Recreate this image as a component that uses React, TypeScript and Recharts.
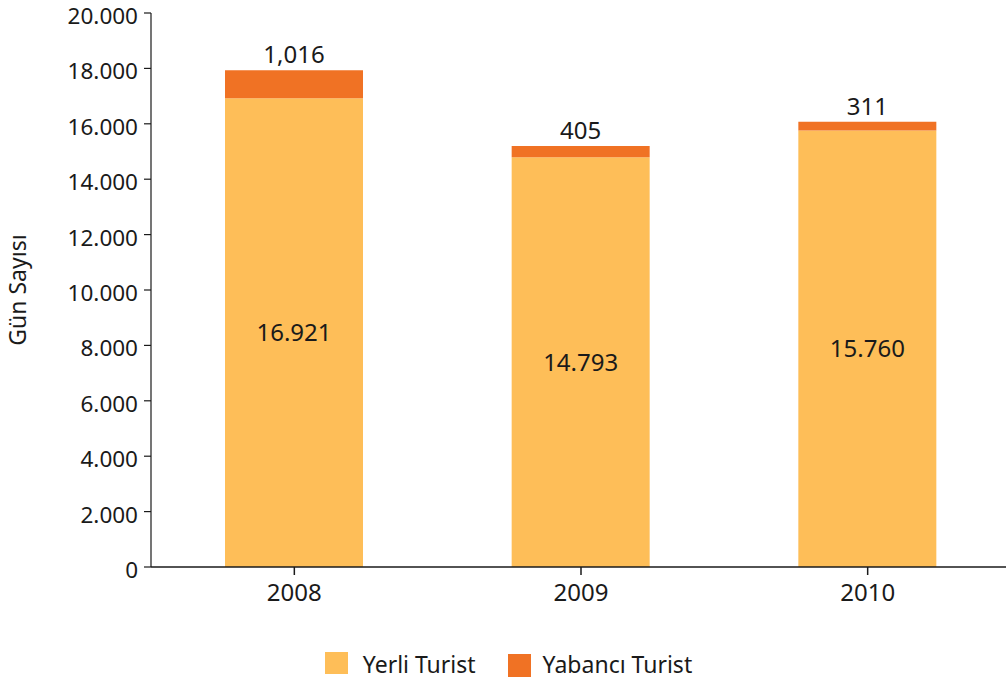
import React from 'react';
import { Bar, BarChart, LabelList, Legend, XAxis, YAxis } from 'recharts';

const years = ['2008', '2009', '2010'];
const yerliTurist = [16921, 14793, 15760];
const yabanciTurist = [1016, 405, 311];
const yabanciLabels = ['1,016', '405', '311'];
const yTicks = [0, 2000, 4000, 6000, 8000, 10000, 12000, 14000, 16000, 18000, 20000];

const YERLI = '#FEBE58';
const YABANCI = '#F07224';
const FONT = '"Noto Sans", "Open Sans", sans-serif';
const INK = '#1a1a1a';

const data = years.map((year, i) => ({
  year,
  yerli: yerliTurist[i],
  yabanci: yabanciTurist[i],
  yabanciLabel: yabanciLabels[i]
}));

const dotted = (v: number) => String(v).replace(/\B(?=(\d{3})+(?!\d))/g, '.');

// y tick labels sit a touch below their tick, as in the source
const YTick = (props: any) => {
  const { x, y, payload } = props;
  return (
    <text x={x} y={y} dy={11} textAnchor="end" fill={INK} fontSize={22.5} fontFamily={FONT}>
      {dotted(payload.value)}
    </text>
  );
};

const LegendBox = () => (
  <div
    style={{
      display: 'flex',
      justifyContent: 'center',
      alignItems: 'center',
      height: 30,
      fontFamily: FONT,
      fontSize: 23,
      color: INK,
      paddingLeft: 6
    }}
  >
    <span style={{ width: 23, height: 22, background: YERLI, display: 'inline-block', marginRight: 15, marginTop: -3 }} />
    <span style={{ marginRight: 32 }}>Yerli Turist</span>
    <span style={{ width: 23, height: 23, background: YABANCI, display: 'inline-block', marginRight: 12, marginTop: 3 }} />
    <span>Yabancı Turist</span>
  </div>
);

const App: React.FC = () => (
  <div style={{ position: 'absolute', left: 0, top: 0, width: 1006, height: 685, overflow: 'hidden', background: '#fff' }}>
    <BarChart
      width={1012}
      height={685}
      data={data}
      margin={{ top: 13, right: 1, left: 0, bottom: 6 }}
      barCategoryGap={0}
    >
      <XAxis
        dataKey="year"
        height={82}
        stroke={INK}
        strokeWidth={1.5}
        tickSize={8}
        tickMargin={9}
        interval={0}
        tick={{ fill: INK, fontSize: 24, fontFamily: FONT }}
      />
      <YAxis
        width={151}
        domain={[0, 20000]}
        ticks={yTicks}
        interval={0}
        stroke={INK}
        strokeWidth={1.2}
        tickSize={7}
        tickMargin={6}
        tick={<YTick />}
        label={{
          value: 'Gün Sayısı',
          angle: -90,
          position: 'insideLeft',
          dx: 13,
          style: { fill: INK, fontSize: 23, fontFamily: FONT, textAnchor: 'middle' }
        }}
      />
      <Legend verticalAlign="bottom" content={() => <LegendBox />} />
      <Bar dataKey="yerli" stackId="a" fill={YERLI} barSize={138} isAnimationActive={false}>
        <LabelList
          dataKey="yerli"
          position="center"
          formatter={(v: number) => dotted(v)}
          style={{ fill: INK, fontSize: 24, fontFamily: FONT }}
        />
      </Bar>
      <Bar dataKey="yabanci" stackId="a" fill={YABANCI} barSize={138} isAnimationActive={false}>
        <LabelList
          dataKey="yabanciLabel"
          position="top"
          offset={7}
          style={{ fill: INK, fontSize: 24, fontFamily: FONT }}
        />
      </Bar>
    </BarChart>
  </div>
);

export default App;
